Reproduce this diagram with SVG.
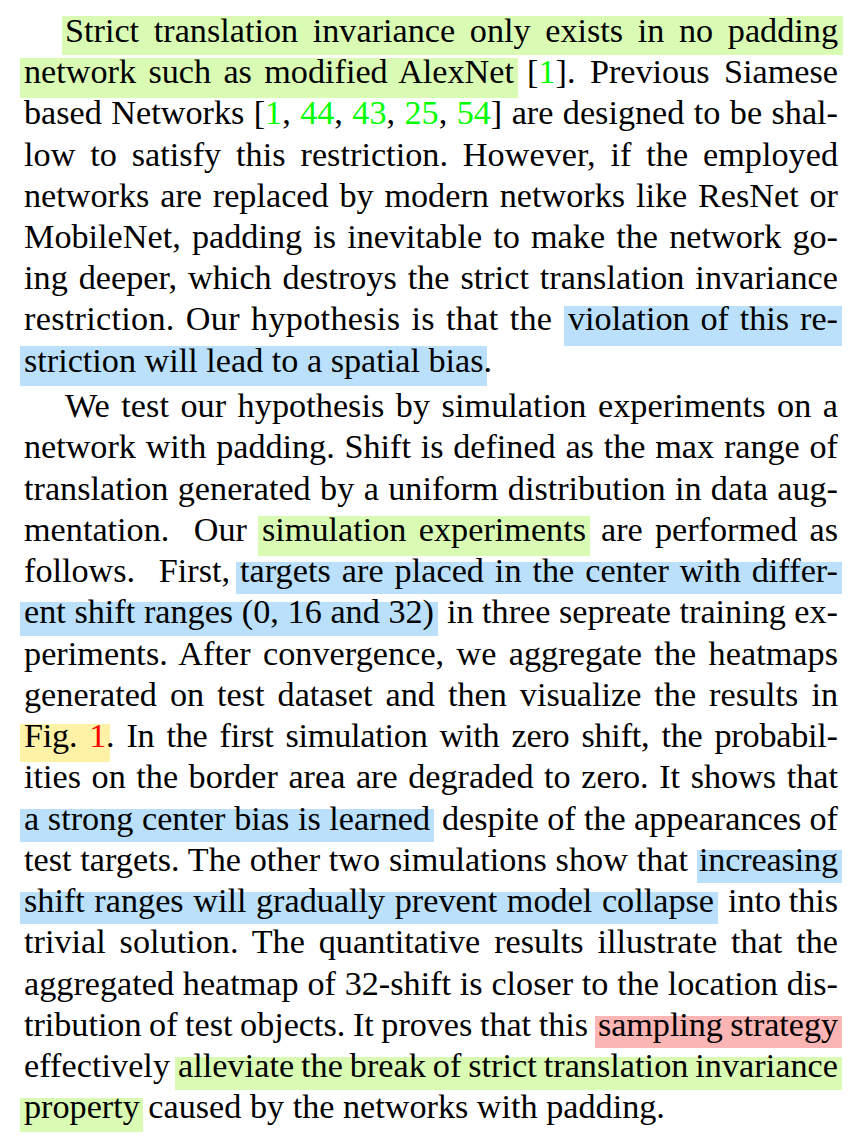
<svg xmlns="http://www.w3.org/2000/svg" width="862" height="1140" viewBox="0 0 862 1140">
<style>
.t{font-family:"Liberation Serif","Times New Roman",serif;font-size:34.2px;fill:#000}
.c{fill:#00ff00}
.r{fill:#ff0000}
.hg{fill:#dafbb4}
.hb{fill:#bbe0fb}
.hy{fill:#fdf2a6}
.hr{fill:#fbb5b5}
</style>
<rect width="862" height="1140" fill="#fff"/>
<g id="highlights">
<rect class="hg" x="62" y="16" width="781" height="39"/>
<rect class="hg" x="20" y="58" width="498" height="40"/>
<rect class="hb" x="564" y="306" width="278" height="40"/>
<rect class="hb" x="20" y="346" width="467" height="40"/>
<rect class="hg" x="258" y="516" width="332" height="40"/>
<rect class="hb" x="236" y="562" width="606" height="32"/>
<rect class="hb" x="20" y="602" width="418" height="34"/>
<rect class="hy" x="20" y="724" width="90" height="38"/>
<rect class="hb" x="20" y="809" width="414" height="33"/>
<rect class="hb" x="697" y="850" width="145" height="33"/>
<rect class="hb" x="20" y="892" width="698" height="32"/>
<rect class="hr" x="595" y="1016" width="247" height="32"/>
<rect class="hg" x="175" y="1057" width="667" height="33"/>
<rect class="hg" x="20" y="1098" width="123" height="34"/>
</g>
<g id="paragraph-1" class="t">
<text x="65" y="42" textLength="773" lengthAdjust="spacing" style="word-spacing:6.07px">Strict translation invariance only exists in no padding</text>
<text x="24" y="83.2" textLength="490" lengthAdjust="spacing" style="word-spacing:3.77px">network such as modified AlexNet</text>
<text x="527" y="83.2" textLength="311" lengthAdjust="spacing" style="word-spacing:5.9px">[<tspan class="c">1</tspan>]. Previous Siamese</text>
<text x="24" y="124.4" textLength="814" lengthAdjust="spacing" style="word-spacing:0.86px">based Networks [<tspan class="c">1</tspan>, <tspan class="c">44</tspan>, <tspan class="c">43</tspan>, <tspan class="c">25</tspan>, <tspan class="c">54</tspan>] are designed to be shal-</text>
<text x="24" y="165.6" textLength="814" lengthAdjust="spacing" style="word-spacing:6.29px">low to satisfy this restriction. However, if the employed</text>
<text x="24" y="206.8" textLength="814" lengthAdjust="spacing" style="word-spacing:2.26px">networks are replaced by modern networks like ResNet or</text>
<text x="24" y="248" textLength="814" lengthAdjust="spacing" style="word-spacing:2.6px">MobileNet, padding is inevitable to make the network go-</text>
<text x="24" y="289.2" textLength="814" lengthAdjust="spacing" style="word-spacing:2.31px">ing deeper, which destroys the strict translation invariance</text>
<text x="24" y="330.4" textLength="528" lengthAdjust="spacing" style="word-spacing:2.35px">restriction. Our hypothesis is that the</text>
<text x="568" y="330.4" textLength="270" lengthAdjust="spacing" style="word-spacing:2.28px">violation of this re-</text>
<text x="24" y="371.6">striction will lead to a spatial bias.</text>
</g>
<g id="paragraph-2" class="t">
<text x="65" y="417" textLength="773" lengthAdjust="spacing" style="word-spacing:2.82px">We test our hypothesis by simulation experiments on a</text>
<text x="24" y="458.25" textLength="814" lengthAdjust="spacing" style="word-spacing:1.32px">network with padding. Shift is defined as the max range of</text>
<text x="24" y="499.5" textLength="814" lengthAdjust="spacing" style="word-spacing:0.83px">translation generated by a uniform distribution in data aug-</text>
<text x="24" y="540.75" textLength="223" lengthAdjust="spacing" style="word-spacing:15.9px">mentation. Our</text>
<text x="262" y="540.75" textLength="324" lengthAdjust="spacing" style="word-spacing:3.85px">simulation experiments</text>
<text x="601" y="540.75" textLength="237" lengthAdjust="spacing" style="word-spacing:3.75px">are performed as</text>
<text x="24" y="582" textLength="206" lengthAdjust="spacing" style="word-spacing:15px">follows. First,</text>
<text x="240" y="582" textLength="598" lengthAdjust="spacing" style="word-spacing:2.26px">targets are placed in the center with differ-</text>
<text x="24" y="623.25" textLength="410" lengthAdjust="spacing" style="word-spacing:0.1px">ent shift ranges (0, 16 and 32)</text>
<text x="447" y="623.25" textLength="391" lengthAdjust="spacing">in three sepreate training ex-</text>
<text x="24" y="664.5" textLength="814" lengthAdjust="spacing" style="word-spacing:3.67px">periments. After convergence, we aggregate the heatmaps</text>
<text x="24" y="705.75" textLength="814" lengthAdjust="spacing" style="word-spacing:4.43px">generated on test dataset and then visualize the results in</text>
<text x="24" y="747" textLength="814" lengthAdjust="spacing" style="word-spacing:3.68px">Fig. <tspan class="r">1</tspan>. In the first simulation with zero shift, the probabil-</text>
<text x="24" y="788.25" textLength="814" lengthAdjust="spacing" style="word-spacing:2px">ities on the border area are degraded to zero. It shows that</text>
<text x="24" y="829.5" textLength="406" lengthAdjust="spacing" style="word-spacing:0.1px">a strong center bias is learned</text>
<text x="442" y="829.5" textLength="396" lengthAdjust="spacing" style="word-spacing:-0.25px">despite of the appearances of</text>
<text x="24" y="870.75" textLength="664" lengthAdjust="spacing" style="word-spacing:0.15px">test targets. The other two simulations show that</text>
<text x="699" y="870.75" textLength="139" lengthAdjust="spacing">increasing</text>
<text x="24" y="912" textLength="690" lengthAdjust="spacing" style="word-spacing:1px">shift ranges will gradually prevent model collapse</text>
<text x="728" y="912" textLength="110" lengthAdjust="spacing" style="word-spacing:-0.85px">into this</text>
<text x="24" y="953.25" textLength="814" lengthAdjust="spacing" style="word-spacing:5.28px">trivial solution. The quantitative results illustrate that the</text>
<text x="24" y="994.5" textLength="814" lengthAdjust="spacing" style="word-spacing:0.21px">aggregated heatmap of 32-shift is closer to the location dis-</text>
<text x="24" y="1035.75" textLength="564" lengthAdjust="spacing" style="word-spacing:-0.9px">tribution of test objects. It proves that this</text>
<text x="598" y="1035.75" textLength="240" lengthAdjust="spacing" style="word-spacing:-1px">sampling strategy</text>
<text x="24" y="1077" textLength="146" lengthAdjust="spacing">effectively</text>
<text x="178" y="1077" textLength="660" lengthAdjust="spacing" style="word-spacing:-1.7px">alleviate the break of strict translation invariance</text>
<text x="24" y="1118.25">property caused by the networks with padding.</text>
</g>
</svg>
